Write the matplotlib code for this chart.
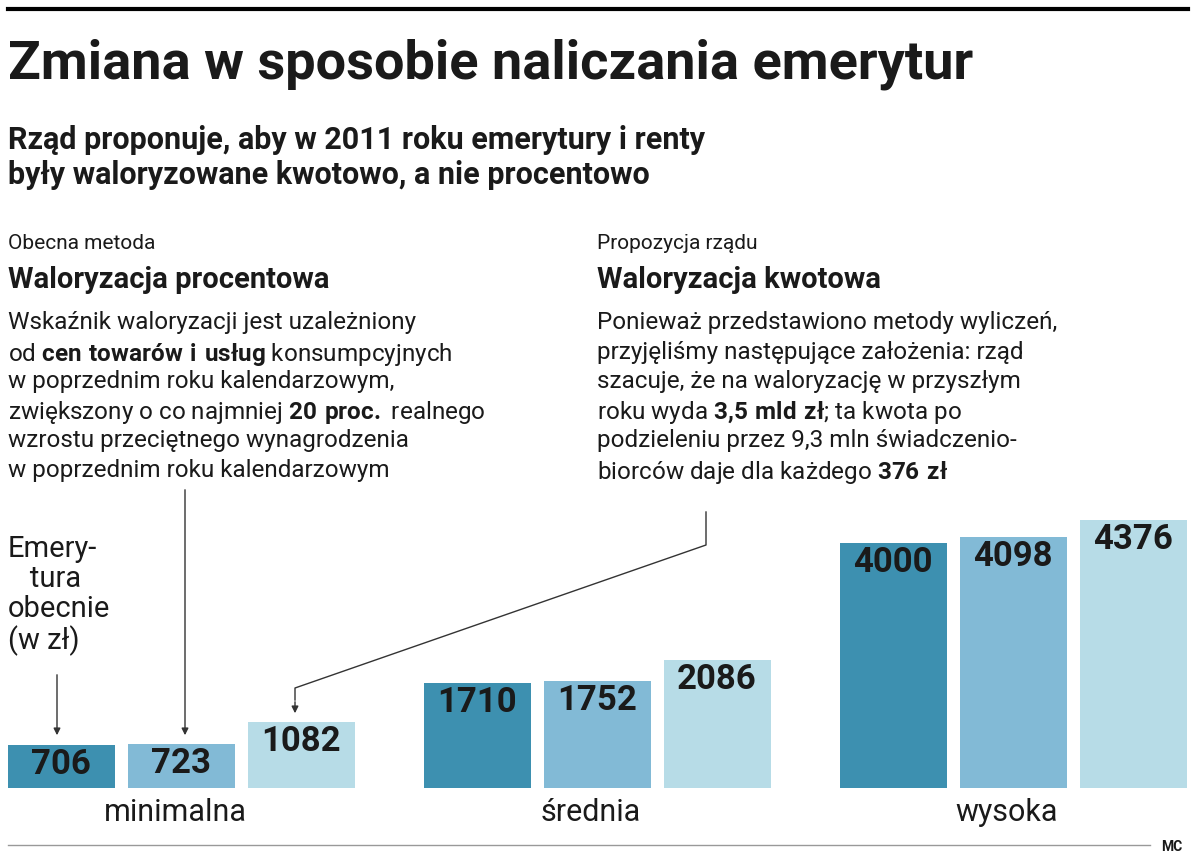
import matplotlib
matplotlib.use("Agg")
import matplotlib.pyplot as plt

plt.rcParams["mathtext.fontset"] = "custom"
plt.rcParams["mathtext.rm"] = "Roboto"
plt.rcParams["mathtext.bf"] = "Roboto:bold"

groups = ["minimalna", "średnia", "wysoka"]
obecnie = [706, 1710, 4000]
procentowa = [723, 1752, 4098]
kwotowa = [1082, 2086, 4376]
colors = ["#3d90b0", "#82bad6", "#b7dce7"]

body = "Roboto"
W, H = 1200, 867
fig = plt.figure(figsize=(12, 8.67), dpi=100)
bg = fig.add_axes([0, 0, 1, 1])
bg.set_xlim(0, W); bg.set_ylim(H, 0); bg.axis("off")

bg.plot([8, 1188], [9, 9], color="black", lw=3)
bg.text(8, 38, "Zmiana w sposobie naliczania emerytur", fontsize=39, fontweight="bold",
        family=body, va="top", color="#1a1a1a")
bg.text(8, 125, "Rząd proponuje, aby w 2011 roku emerytury i renty\nbyły waloryzowane kwotowo, a nie procentowo",
        fontsize=22, fontweight="bold", family=body, va="top", linespacing=1.2, color="#1a1a1a")

def block(x, small, head, lines):
    bg.text(x, 234, small, fontsize=15, family=body, va="top", color="#1a1a1a")
    bg.text(x, 266, head, fontsize=21, fontweight="bold", family=body, va="top", color="#1a1a1a")
    for i, ln in enumerate(lines):
        bg.text(x, 311 + i * 29.5, ln, fontsize=17.5, family=body, va="top", color="#1a1a1a")

block(8, "Obecna metoda", "Waloryzacja procentowa", [
    "Wskaźnik waloryzacji jest uzależniony",
    r"od $\bf{cen\ towarów\ i\ usług}$ konsumpcyjnych",
    "w poprzednim roku kalendarzowym,",
    r"zwiększony o co najmniej $\bf{20\ proc.}$ realnego",
    "wzrostu przeciętnego wynagrodzenia",
    "w poprzednim roku kalendarzowym"])
block(597, "Propozycja rządu", "Waloryzacja kwotowa", [
    "Ponieważ przedstawiono metody wyliczeń,",
    "przyjęliśmy następujące założenia: rząd",
    "szacuje, że na waloryzację w przyszłym",
    r"roku wyda $\bf{3{,}5\ mld\ zł}$; ta kwota po",
    "podzieleniu przez 9,3 mln świadczenio-",
    r"biorców daje dla każdego $\bf{376\ zł}$"])

bg.text(8, 535, "Emery-\n   tura\nobecnie\n(w zł)", fontsize=21, family=body, va="top",
        linespacing=1.1, color="#1a1a1a")

ap = dict(arrowstyle="-|>", color="#333333", lw=1, mutation_scale=10)
bg.annotate("", xy=(57, 738), xytext=(57, 672), arrowprops=ap)
bg.annotate("", xy=(185, 738), xytext=(185, 487), arrowprops=ap)
bg.plot([706, 706, 295, 295], [512, 545, 688, 700], color="#333333", lw=1)
bg.annotate("", xy=(295, 716), xytext=(295, 699), arrowprops=ap)

base_px, top_px = 788, 520
ax = fig.add_axes([0, (H - base_px) / H, 1, (base_px - top_px) / H])
ax.set_xlim(0, W); ax.set_ylim(0, max(kwotowa)); ax.axis("off")
ax.patch.set_alpha(0)
for g in range(3):
    for i, series in enumerate([obecnie, procentowa, kwotowa]):
        cx = 61 + g * 416 + i * 120
        v = series[g]
        ax.bar(cx, v, width=107, color=colors[i], bottom=0)
        ax.text(cx, v - 50, str(v), ha="center", va="top", fontsize=25,
                fontweight="bold", family=body, color="#1a1a1a")
    bg.text(175 + g * 416, 798, groups[g], fontsize=22, family=body, va="top",
            ha="center", color="#1a1a1a")

bg.plot([8, 1150], [845, 845], color="#999999", lw=1)
bg.text(1172, 847, "MC", fontsize=10, fontweight="bold", family=body, va="center",
        ha="center", color="#1a1a1a")

fig.savefig("out.png", dpi=100)
